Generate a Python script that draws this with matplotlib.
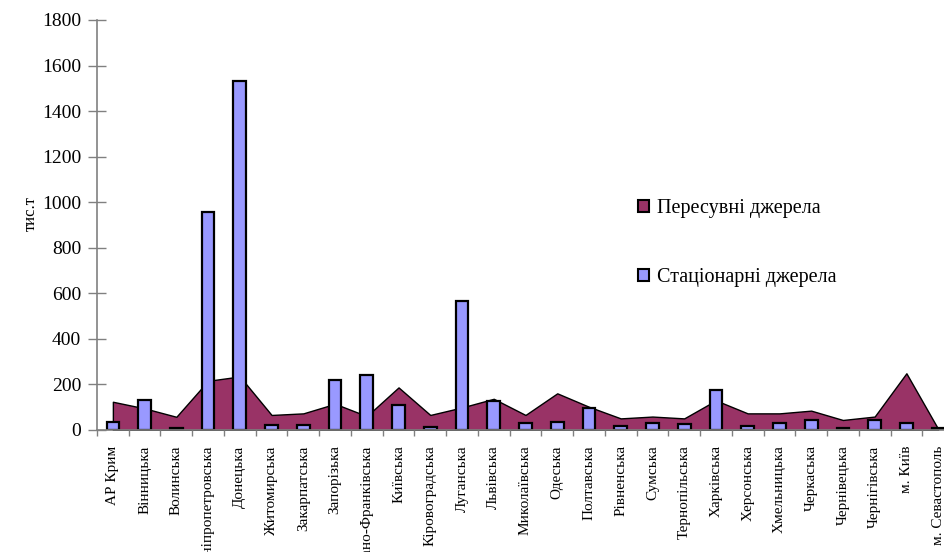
import matplotlib
matplotlib.use('Agg')
import matplotlib.pyplot as plt
import numpy as np
from matplotlib.patches import Patch

plt.rcParams['font.family'] = ['Liberation Serif', 'DejaVu Serif']

# regions of Ukraine
REGIONS = ['АР Крим', 'Вінницька', 'Волинська', 'Дніпропетровська', 'Донецька',
           'Житомирська', 'Закарпатська', 'Запорізька', 'Івано-Франківська', 'Київська',
           'Кіровоградська', 'Луганська', 'Львівська', 'Миколаївська', 'Одеська',
           'Полтавська', 'Рівненська', 'Сумська', 'Тернопільська', 'Харківська',
           'Херсонська', 'Хмельницька', 'Черкаська', 'Чернівецька', 'Чернігівська',
           'м. Київ', 'м. Севастополь']

# emissions, thousand tonnes
MOBILE = [124, 95, 58, 216, 235, 66, 73, 115, 61, 187,
          66, 99, 137, 66, 161, 102, 51, 59, 51, 130,
          73, 73, 85, 44, 59, 249, 5]
STATIONARY = [37, 132, 10, 957, 1532, 22, 22, 219, 241, 110,
              15, 566, 127, 29, 37, 98, 17, 29, 25, 176,
              17, 29, 44, 10, 44, 29, 10]

MOBILE_LABEL = 'Пересувні джерела'
STATIONARY_LABEL = 'Стаціонарні джерела'
Y_LABEL = 'тис.т'

MOBILE_COLOR = '#993366'
STATIONARY_COLOR = '#9999FF'


def main():
    fig = plt.figure(figsize=(9.45, 5.52), dpi=100)
    W, H = 945, 552
    # plot area runs a little past the right edge of the canvas
    ax = fig.add_axes([97 / W, (H - 430) / H, 857 / W, 410 / H])

    x = np.arange(len(REGIONS))
    ax.fill_between(x, MOBILE, 0, facecolor=MOBILE_COLOR, edgecolor='black',
                    linewidth=1.0, zorder=1)
    ax.bar(x, STATIONARY, width=0.4, color=STATIONARY_COLOR, edgecolor='black',
           linewidth=1.6, zorder=2)

    ax.set_xlim(-0.5, len(REGIONS) - 0.5)
    ax.set_ylim(0, 1800)
    ax.set_yticks(np.arange(0, 1801, 200))
    ax.tick_params(axis='y', direction='inout', length=13, width=1,
                   color='#808080', labelsize=14, pad=5)

    ax.set_xticks(x)
    ax.set_xticklabels(REGIONS, rotation=90, fontsize=11, va='top')
    ax.set_xticks(np.arange(-0.5, len(REGIONS), 1.0), minor=True)
    ax.tick_params(axis='x', which='major', length=0, pad=11)
    ax.tick_params(axis='x', which='minor', direction='out', length=4.5,
                   width=1, color='#808080')

    for side in ('top', 'right'):
        ax.spines[side].set_visible(False)
    for side in ('left', 'bottom'):
        ax.spines[side].set_color('#808080')
        ax.spines[side].set_linewidth(1.2)

    fig.text(31 / W, 1 - 214 / H, Y_LABEL, rotation=90, fontsize=12,
             ha='center', va='center')

    handles = [Patch(facecolor=MOBILE_COLOR, edgecolor='black', linewidth=1.5),
               Patch(facecolor=STATIONARY_COLOR, edgecolor='black', linewidth=1.5)]
    fig.legend(handles, [MOBILE_LABEL, STATIONARY_LABEL], loc='center left',
               bbox_to_anchor=(638 / W, 1 - 243 / H), frameon=False,
               fontsize=14.5, handlelength=0.55, handleheight=0.55,
               handletextpad=0.4, labelspacing=2.5, borderpad=0,
               borderaxespad=0)

    fig.savefig('out.png', dpi=100)
    plt.close(fig)


if __name__ == '__main__':
    main()
